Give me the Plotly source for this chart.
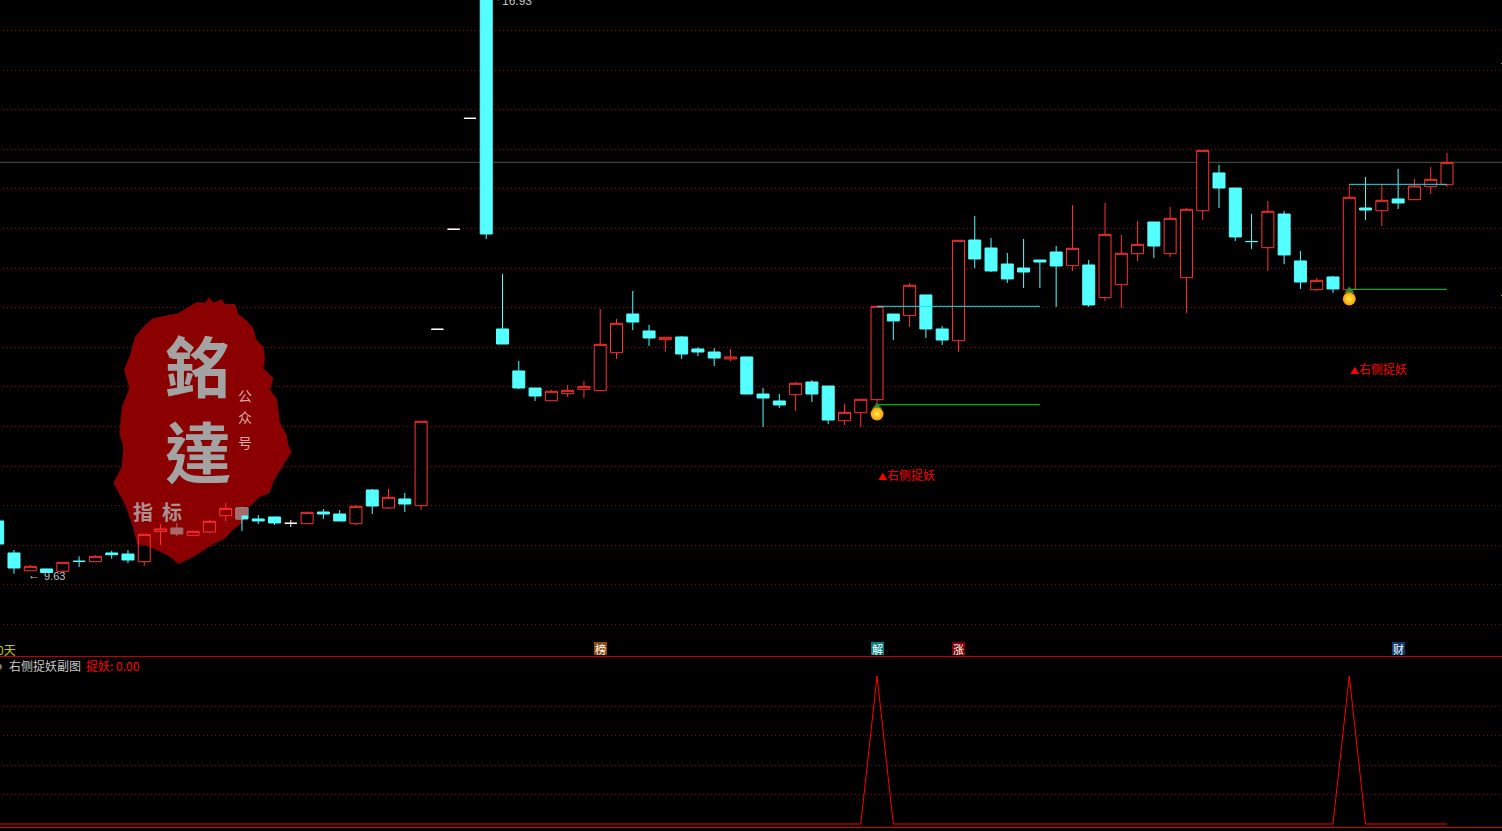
import plotly.graph_objects as go

# Daily bars
OPEN = [10.288,9.888,9.666,9.688,9.659,9.785,9.779,9.888,9.875,9.779,
        10.154,10.2,10.109,10.15,10.354,10.45,10.313,10.338,10.259,10.254,
        10.4,10.375,10.254,10.675,10.45,10.563,10.479,12.684,13.934,15.321,
        16.93,12.688,12.163,11.95,11.791,11.879,11.934,11.916,12.391,12.875,
        12.663,12.554,12.588,12.438,12.4,12.313,12.338,11.875,11.788,11.866,
        12.025,11.975,11.541,11.641,11.804,12.875,12.854,13.113,12.688,12.541,
        13.8,13.7,13.5,13.45,13.55,13.65,13.479,13.488,13.079,13.241,
        13.629,14.025,13.629,13.329,14.166,14.638,14.45,13.782,13.704,14.125,
        13.538,13.179,13.338,13.179,14.2,14.166,14.313,14.304,14.466,14.491]
HIGH = [10.288,9.925,9.738,9.688,9.771,9.846,9.859,9.916,9.925,10.121,
        10.25,10.263,10.159,10.3,10.513,10.463,10.363,10.338,10.3,10.396,
        10.438,10.425,10.488,10.688,10.688,10.638,11.534,12.684,13.934,15.321,
        16.93,13.375,12.288,11.95,11.925,11.988,12.038,12.938,12.813,13.163,
        12.738,12.584,12.6,12.463,12.45,12.438,12.338,11.95,11.875,12.025,
        12.05,11.975,11.75,11.809,12.971,12.875,13.263,13.113,12.725,13.796,
        14.1,13.825,13.638,13.813,13.55,13.725,14.238,13.55,14.263,13.863,
        14.038,14.025,14.213,14.2,14.921,14.738,14.45,14.125,14.288,14.163,
        13.663,13.325,13.35,14.496,14.588,14.5,14.688,14.563,14.713,14.888]
LOW = [10.0,9.63,9.666,9.644,9.659,9.713,9.779,9.816,9.763,9.725,
       9.988,10.1,10.109,10.138,10.288,10.163,10.25,10.238,10.213,10.254,
       10.313,10.288,10.238,10.375,10.438,10.4,10.425,12.684,13.934,15.321,
       13.813,12.5,11.938,11.788,11.791,11.838,11.825,11.916,12.313,12.675,
       12.475,12.4,12.313,12.35,12.225,12.288,11.875,11.463,11.7,11.663,
       11.775,11.5,11.488,11.463,11.759,12.55,12.713,12.575,12.488,12.4,
       13.45,13.4,13.263,13.2,13.2,12.963,13.413,12.963,13.038,12.95,
       13.538,13.575,13.588,12.888,14.05,14.2,13.788,13.688,13.413,13.5,
       13.188,13.163,13.138,13.179,14.05,13.975,14.188,14.304,14.375,14.466]
CLOSE = [10.0,9.7,9.721,9.644,9.771,9.783,9.846,9.866,9.8,10.121,
         10.188,10.125,10.159,10.284,10.446,10.313,10.288,10.263,10.259,10.396,
         10.375,10.288,10.471,10.475,10.584,10.5,11.534,12.684,13.934,15.321,
         13.875,12.5,11.95,11.85,11.909,11.921,11.971,12.496,12.759,12.775,
         12.575,12.584,12.375,12.4,12.325,12.338,11.875,11.825,11.738,12.009,
         11.875,11.55,11.646,11.809,12.971,12.788,13.234,12.688,12.55,13.796,
         13.563,13.413,13.313,13.4,13.525,13.475,13.696,12.988,13.871,13.634,
         13.746,13.725,14.071,14.184,14.921,14.45,13.838,13.78,14.159,13.613,
         13.275,13.296,13.188,14.334,14.175,14.296,14.263,14.475,14.559,14.771]
SIGNAL = [0]*54 + [1] + [0]*28 + [1] + [0]*6

# Bars that sit on the seal picture
SEAL_UP = [9, 10, 12, 13, 14]
SEAL_DOWN = [11]

# Signal lines: start bar, end bar, price
RESIST_1 = (54, 64, 12.971)
SUPPORT_1 = (54, 64, 11.741)
RESIST_2 = (83, 89, 14.496)
SUPPORT_2 = (83, 89, 13.184)
SIGNAL_BARS = [54, 83]
SIGNAL_PRICE = [11.625, 13.063]
LEAF_PRICE = [11.713, 13.163]
SIGNAL_LABEL_PRICE = [10.875, 12.2]
SIGNAL_LABEL = "<span style='font-size:9px'>▲</span>右侧捉妖"
HIGH_LABEL = "16.93"
LOW_LABEL = "9.63"
TAGS = [("榜", 37, "#8b4a10"), ("解", 54, "#008080"), ("涨", 59, "#800000"), ("财", 86, "#0c3a6c")]

# Grid levels of the two panes
GRID_PRICE = [16.41875, 15.91875, 15.43125, 14.93125, 14.44375, 13.94375, 13.44375, 12.95625,
              12.45625, 11.96875, 11.46875, 10.96875, 10.48125, 9.98125, 9.49375, 8.99375]
GRID_SIGNAL = [235 / 296, 177 / 296, 117 / 296, 59 / 296]

W, H = 1502, 831
RED = "#ff3232"
CYAN = "#54ffff"
FADED = "#a66c6c"
GRID = "#a00000"
CJK = "Noto Sans CJK SC, Liberation Sans, sans-serif"
LATIN = "Liberation Sans, sans-serif"

idx = list(range(len(OPEN)))


def px(x, y):
    return x / W, 1 - y / H


def candle(ids, line, fill, name):
    return go.Candlestick(
        x=ids,
        open=[OPEN[i] for i in ids], high=[HIGH[i] for i in ids],
        low=[LOW[i] for i in ids], close=[CLOSE[i] for i in ids],
        increasing=dict(line=dict(color=line, width=1), fillcolor=fill),
        decreasing=dict(line=dict(color=line, width=1), fillcolor=fill),
        whiskerwidth=0, name=name, showlegend=False, hoverinfo="skip",
        xaxis="x", yaxis="y",
    )


up = [i for i in idx if CLOSE[i] > OPEN[i] and i not in SEAL_UP]
down = [i for i in idx if CLOSE[i] < OPEN[i] and i not in SEAL_DOWN]
flat = [i for i in idx if CLOSE[i] == OPEN[i]]

fig = go.Figure()
fig.add_trace(candle(up, RED, "#000000", "up"))
fig.add_trace(candle(SEAL_UP, RED, "rgba(0,0,0,0)", "up on seal"))
fig.add_trace(candle(down, CYAN, CYAN, "down"))
fig.add_trace(candle(SEAL_DOWN, FADED, FADED, "down on seal"))
fig.add_trace(candle(flat, "#ffffff", "#ffffff", "flat"))

for (a, b, p), col in [(RESIST_1, "#19e3f0"), (SUPPORT_1, "#00e000"), (RESIST_2, "#19e3f0"), (SUPPORT_2, "#20d040")]:
    fig.add_trace(go.Scatter(x=[a, b], y=[p, p], mode="lines", line=dict(color=col, width=1),
                             showlegend=False, hoverinfo="skip", xaxis="x", yaxis="y"))

fig.add_trace(go.Scatter(x=SIGNAL_BARS, y=LEAF_PRICE, mode="markers",
                         marker=dict(symbol="triangle-up", size=9, color="#2e8b2e"),
                         showlegend=False, hoverinfo="skip", xaxis="x", yaxis="y"))
fig.add_trace(go.Scatter(x=SIGNAL_BARS, y=SIGNAL_PRICE, mode="markers",
                         marker=dict(symbol="circle", size=13, color="#ff9a00",
                                     gradient=dict(type="radial", color="#ffee50"), line=dict(width=0)),
                         showlegend=False, hoverinfo="skip", xaxis="x", yaxis="y"))

fig.add_trace(go.Scatter(x=idx, y=SIGNAL, mode="lines", line=dict(color="#ff0000", width=1),
                         showlegend=False, hoverinfo="skip", xaxis="x2", yaxis="y2"))

# Seal picture outline (screen position of a decoration, not data)
SEAL = [(245,45),(262,36),(285,38),(298,22),(310,38),(335,28),(345,42),(375,42),(385,72),(410,92),
        (430,115),(438,148),(460,170),(465,205),(460,235),(490,265),(480,300),(500,325),(505,360),(510,400),
        (530,435),(535,465),(545,485),(522,522),(505,550),(490,575),(478,610),(450,620),(418,650),(408,680),
        (395,700),(368,720),(345,745),(305,765),(275,785),(250,800),(205,822),(180,800),(150,785),(120,770),
        (82,762),(68,710),(48,650),(30,615),(10,580),(35,530),(40,470),(28,430),(32,390),(36,350),
        (58,295),(42,240),(60,195),(75,140),(105,105),(130,85),(175,75),(205,70)]
path = []
for k, (zx, zy) in enumerate(SEAL):
    x, y = px(110 + zx / 3, 290 + zy / 3)
    path.append(("M" if k == 0 else "L") + f"{x:.5f},{y:.5f}")
path = " ".join(path) + " Z"

rx0, ry0 = px(235, 508)
rx1, ry1 = px(248, 519)
rxm, rym = px(241.5, 515.5)
faded_path = f"M{rx0:.5f},{ry0:.5f} L{rx1:.5f},{ry0:.5f} L{rx1:.5f},{rym:.5f} L{rxm:.5f},{rym:.5f} L{rxm:.5f},{ry1:.5f} L{rx0:.5f},{ry1:.5f} Z"

shapes = [dict(type="path", path=path, xref="paper", yref="paper", fillcolor="#8b0000",
               line=dict(width=0), layer="below")]
for v in GRID_PRICE:
    shapes.append(dict(type="line", xref="paper", yref="y", x0=3 / W, x1=1, y0=v, y1=v, layer="below",
                       line=dict(color=GRID, width=1, dash="1px,3px")))
for v in GRID_SIGNAL:
    shapes.append(dict(type="line", xref="paper", yref="y2", x0=3 / W, x1=1, y0=v, y1=v, layer="below",
                       line=dict(color=GRID, width=1, dash="1px,3px")))
shapes += [
    dict(type="path", path=faded_path, xref="paper", yref="paper", fillcolor=FADED, line=dict(width=0), layer="above"),
    dict(type="line", xref="paper", yref="y", x0=0, x1=1, y0=CLOSE[-1], y1=CLOSE[-1],
         line=dict(color="#505050", width=1), layer="below"),
    dict(type="line", xref="paper", yref="paper", x0=0, x1=1, y0=1 - 656.5 / H, y1=1 - 656.5 / H,
         line=dict(color="#c00000", width=1)),
    dict(type="line", xref="paper", yref="paper", x0=0, x1=1, y0=1 - 827.5 / H, y1=1 - 827.5 / H,
         line=dict(color="#e00000", width=1)),
    dict(type="line", xref="paper", yref="paper", x0=1501 / W, x1=1, y0=1 - 63.5 / H, y1=1 - 63.5 / H,
         line=dict(color="#c07070", width=1)),
    dict(type="line", xref="paper", yref="paper", x0=1501 / W, x1=1, y0=1 - 295.5 / H, y1=1 - 295.5 / H,
         line=dict(color="#40c040", width=1)),
]

ann = []


def note(text, x, y, color, size, anchor="left", family=CJK, **kw):
    xp, yp = px(x, y)
    ann.append(dict(text=text, x=xp, y=yp, xref="paper", yref="paper", xanchor=anchor, yanchor="middle",
                    showarrow=False, font=dict(color=color, size=size, family=family), borderpad=0, **kw))


# seal text
note("<b>銘<br>達</b>", 198, 406, "#a3a3a3", 66, "center", "Noto Sans CJK TC")
note("公", 245, 395, "#d2aaaa", 14, "center")
note("众", 245, 417, "#d2aaaa", 14, "center")
note("号", 245, 442, "#d2aaaa", 14, "center")
note("<b>指</b>", 143, 511, "#ad9090", 20, "center")
note("<b>标</b>", 172, 511, "#ad9090", 20, "center")

# price labels
note("←", 27, 575, "#c0c0c0", 12, "left", LATIN)
note(LOW_LABEL, 43, 576, "#c0c0c0", 11, "left", LATIN)
note("'", 496, 2, "#c0c0c0", 11, "left", LATIN)
note(HIGH_LABEL, 501, 1, "#c0c0c0", 12, "left", LATIN)

# panel captions
note("●", -7, 665, "#808080", 15, "left", LATIN)
note("右侧捉妖副图", 8, 665, "#c8c8c8", 12)
note("捉妖: 0.00", 85, 665, "#ff0000", 12)
note("0天", -4, 649, "#c8c800", 12)

for bar, price in zip(SIGNAL_BARS, SIGNAL_LABEL_PRICE):
    ann.append(dict(text=SIGNAL_LABEL, x=bar, y=price, xref="x", yref="y", xanchor="left", yanchor="middle",
                    xshift=-1, showarrow=False, font=dict(color="#ff0000", size=12, family=CJK)))

for ch, bar, col in TAGS:
    ann.append(dict(text=ch, x=bar, y=1 - 648.5 / H, xref="x", yref="paper", xanchor="center", yanchor="middle",
                    showarrow=False, font=dict(color="#ffffff", size=11, family=CJK), bgcolor=col,
                    width=13, height=13, borderpad=0, borderwidth=0))

PITCH = 16.284
XR = [0.141, 0.141 + W / PITCH]
axis_off = dict(showticklabels=False, ticks="", zeroline=False, showline=False, showgrid=False)

fig.update_layout(
    width=W, height=H, margin=dict(l=0, r=0, t=0, b=0),
    paper_bgcolor="#000000", plot_bgcolor="#000000",
    showlegend=False, boxgap=0.263, boxgroupgap=0, hovermode=False,
    shapes=shapes, annotations=ann,
    xaxis=dict(domain=[0, 1], range=XR, rangeslider=dict(visible=False), anchor="y", **axis_off),
    yaxis=dict(domain=[1 - 656.5 / H, 1], range=[16.8 - 656.5 / 80, 16.8], anchor="x", **axis_off),
    xaxis2=dict(domain=[0, 1], range=XR, anchor="y2", matches="x", **axis_off),
    yaxis2=dict(domain=[1 - 828 / H, 1 - 657 / H], range=[-4 / 148, 167 / 148], anchor="x2", **axis_off),
)

fig.write_html("out.html", config=dict(displayModeBar=False),
               post_script="document.body.style.margin='0';document.body.style.background='#000';document.body.style.overflow='hidden';")
